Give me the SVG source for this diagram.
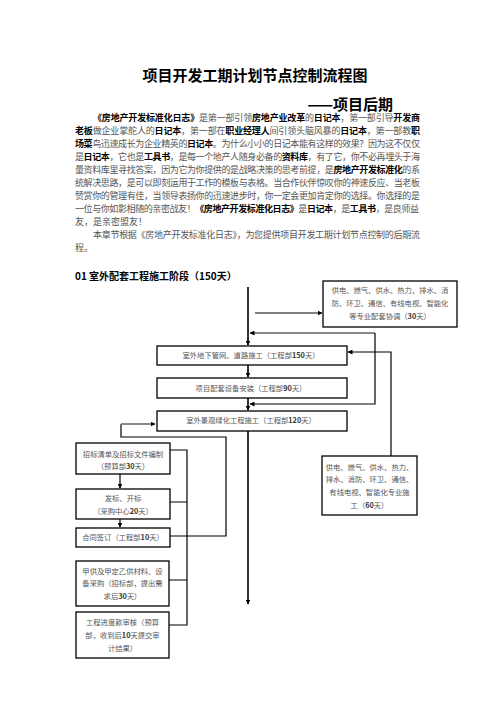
<svg xmlns="http://www.w3.org/2000/svg" width="496" height="702" viewBox="0 0 496 702">
<defs>
<style>
.t{font-family:"Noto Sans CJK SC","Liberation Sans",sans-serif;}
.p{font-family:"Noto Sans CJK SC","Liberation Sans",sans-serif;font-size:9px;fill:#555;}
.p tspan.b{font-weight:bold;fill:#000;}
.bx{fill:#fff;stroke:#000;stroke-width:1.3;}
.bt{font-family:"Noto Sans CJK SC","Liberation Sans",sans-serif;font-size:7.3px;fill:#555;text-anchor:middle;}
.bt tspan.n{font-weight:bold;fill:#333;}
.ln{fill:none;stroke:#000;stroke-width:1.2;}
.gr{fill:none;stroke:#888;stroke-width:2.2;}
.mn{fill:none;stroke:#333;stroke-width:2;}
</style>
<marker id="ah" viewBox="0 0 10 10" refX="9" refY="5" markerWidth="5" markerHeight="5" markerUnits="userSpaceOnUse" orient="auto"><path d="M0,0 L10,5 L0,10 z" fill="#000"/></marker>
</defs>
<rect width="496" height="702" fill="#fff"/>
<text class="t" x="255" y="81" font-size="15" font-weight="bold" text-anchor="middle">项目开发工期计划节点控制流程图</text>
<text class="t" x="393" y="109.5" font-size="15" font-weight="bold" text-anchor="end">——项目后期</text>
<g id="intro">
<text class="p" x="93" y="120.5" textLength="327" lengthAdjust="spacing"><tspan class="b">《房地产开发标准化日志》</tspan>是第一部引领<tspan class="b">房地产业改革</tspan>的<tspan class="b">日记本</tspan>，第一部引导<tspan class="b">开发商</tspan></text>
<text class="p" x="75" y="134" textLength="345" lengthAdjust="spacing"><tspan class="b">老板</tspan>做企业掌舵人的<tspan class="b">日记本</tspan>，第一部在<tspan class="b">职业经理人</tspan>间引领头脑风暴的<tspan class="b">日记本</tspan>，第一部教<tspan class="b">职</tspan></text>
<text class="p" x="75" y="147" textLength="345" lengthAdjust="spacing"><tspan class="b">场菜</tspan>鸟迅速成长为企业精英的<tspan class="b">日记本</tspan>。为什么小小的日记本能有这样的效果？因为这不仅仅</text>
<text class="p" x="75" y="160" textLength="345" lengthAdjust="spacing">是<tspan class="b">日记本</tspan>，它也是<tspan class="b">工具书</tspan>，是每一个地产人随身必备的<tspan class="b">资料库</tspan>，有了它，你不必再埋头于海</text>
<text class="p" x="75" y="173" textLength="345" lengthAdjust="spacing">量资料库里寻找答案，因为它为你提供的是战略决策的思考前提，是<tspan class="b">房地产开发标准化</tspan>的系</text>
<text class="p" x="75" y="186" textLength="345" lengthAdjust="spacing">统解决思路，是可以即刻运用于工作的模板与表格。当合作伙伴惊叹你的神速反应、当老板</text>
<text class="p" x="75" y="199" textLength="345" lengthAdjust="spacing">赞赏你的管理有佳，当领导表扬你的迅速进步时，你一定会更加肯定你的选择。你选择的是</text>
<text class="p" x="75" y="212" textLength="344" lengthAdjust="spacing">一位与你如影相随的亲密战友！<tspan class="b">《房地产开发标准化日志》</tspan>是<tspan class="b">日记本</tspan>，是<tspan class="b">工具书</tspan>，是良师益</text>
<text class="p" x="75" y="225">友，是亲密盟友！</text>
<text class="p" x="93" y="238" textLength="327" lengthAdjust="spacing">本章节根据《房地产开发标准化日志》，为您提供项目开发工期计划节点控制的后期流</text>
<text class="p" x="75" y="251">程。</text>
</g>
<text class="t" x="75" y="280" font-size="10" font-weight="bold">01 室外配套工程施工阶段（150天）</text>
<g id="connectors">
<path class="mn" d="M248,287 V345" marker-end="url(#ah)"/>
<path class="mn" d="M248,365 V377" marker-end="url(#ah)"/>
<path class="mn" d="M248,398 V410" marker-end="url(#ah)"/>
<path class="mn" d="M248,431 V604" marker-end="url(#ah)"/>
<path class="ln" d="M255,313 H322" marker-end="url(#ah)"/>
<path class="gr" d="M375,333 H250" marker-end="url(#ah)"/>
<path class="ln" d="M375,333 V404 H250" marker-end="url(#ah)"/>
<path class="ln" d="M391,456 V352 H348" marker-end="url(#ah)"/>
<path class="ln" d="M170,536 H226 V437 H121 V424"/>
<path class="gr" d="M121,424 H155" marker-end="url(#ah)"/>
<path class="ln" d="M170,450 H187 V625 H169 M170,502 H187 M169,580 H187"/>
<path class="ln" d="M120,474 V488" marker-end="url(#ah)"/>
<path class="ln" d="M120,519 V527" marker-end="url(#ah)"/>
</g>
<g id="n-coord">
<rect class="bx" x="323" y="281" width="134" height="46"/>
<text class="bt" x="390" y="292.5">供电、燃气、供水、热力、排水、消</text>
<text class="bt" x="390" y="305.5">防、环卫、通信、有线电视、智能化</text>
<text class="bt" x="390" y="319">等专业配套协调（<tspan class="n">30</tspan>天）</text>
</g>
<g id="n-pipe">
<rect class="bx" x="157" y="346" width="190" height="19"/>
<text class="bt" x="251" y="358">室外地下管网、道路施工（工程部<tspan class="n">150</tspan>天）</text>
</g>
<g id="n-equip">
<rect class="bx" x="157" y="378" width="190" height="20"/>
<text class="bt" x="251" y="390.5">项目配套设备安装（工程部<tspan class="n">90</tspan>天）</text>
</g>
<g id="n-green">
<rect class="bx" x="157" y="411" width="190" height="20"/>
<text class="bt" x="251" y="423">室外景观绿化工程施工（工程部<tspan class="n">120</tspan>天）</text>
</g>
<g id="n-tender">
<rect class="bx" x="76" y="443" width="94" height="31"/>
<text class="bt" x="123" y="456.5">招标清单及招标文件编制</text>
<text class="bt" x="123" y="469">（预算部<tspan class="n">30</tspan>天）</text>
</g>
<g id="n-bid">
<rect class="bx" x="76" y="489" width="94" height="30"/>
<text class="bt" x="123" y="500.5">发标、开标</text>
<text class="bt" x="123" y="513.5">（采购中心<tspan class="n">20</tspan>天）</text>
</g>
<g id="n-contract">
<rect class="bx" x="76" y="528" width="94" height="19"/>
<text class="bt" x="123" y="540">合同签订（工程部<tspan class="n">10</tspan>天）</text>
</g>
<g id="n-material">
<rect class="bx" x="76" y="561" width="93" height="45"/>
<text class="bt" x="122.5" y="573.5">甲供及甲定乙供材料、设</text>
<text class="bt" x="122.5" y="586">备采购（招标部，提出需</text>
<text class="bt" x="122.5" y="598.5">求后<tspan class="n">30</tspan>天）</text>
</g>
<g id="n-payment">
<rect class="bx" x="76" y="612" width="93" height="46"/>
<text class="bt" x="122.5" y="624.5">工程进度款审核（预算</text>
<text class="bt" x="122.5" y="637.5">部，收到后<tspan class="n">10</tspan>天提交审</text>
<text class="bt" x="122.5" y="650.5">计结果）</text>
</g>
<g id="n-works">
<rect class="bx" x="322" y="456" width="95" height="59"/>
<text class="bt" x="369.5" y="469.5">供电、燃气、供水、热力、</text>
<text class="bt" x="369.5" y="482">排水、消防、环卫、通信、</text>
<text class="bt" x="369.5" y="494.5">有线电视、智能化专业施</text>
<text class="bt" x="369.5" y="507.5">工（<tspan class="n">60</tspan>天）</text>
</g>
</svg>
